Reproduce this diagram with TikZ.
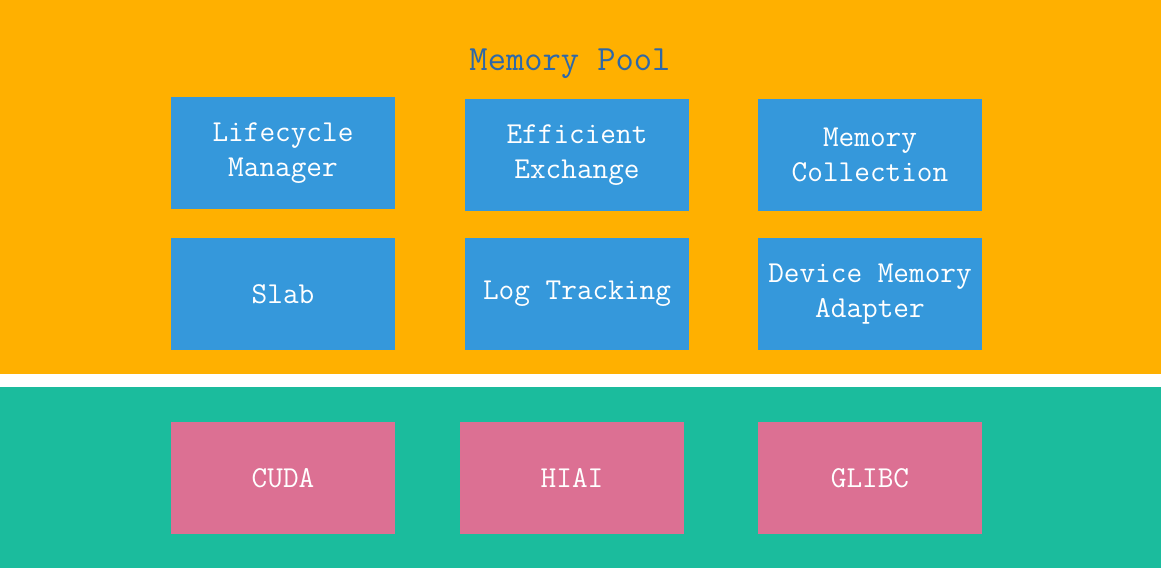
\documentclass[tikz,border=0pt]{standalone}
\usepackage{tikz}
\usetikzlibrary{positioning}
\definecolor{poolorange}{RGB}{255,176,0}
\definecolor{poolblue}{RGB}{53,152,219}
\definecolor{baseteal}{RGB}{27,188,157}
\definecolor{basepink}{RGB}{220,112,147}
\definecolor{titleblue}{RGB}{46,104,168}
\tikzset{box/.style={shape=rectangle, inner sep=0pt, minimum width=4.48cm,
    minimum height=2.24cm, align=center, text=white,
    font=\ttfamily\fontsize{17.3}{19.8}\selectfont}}
\tikzset{poolbox/.style={box, fill=poolblue}}
\tikzset{basebox/.style={box, fill=basepink}}

\begin{document}
\begin{tikzpicture}[x=0.02cm, y=-0.02cm]
    %%%% Bands
    \path[fill=white] (0,0) rectangle (1161,568);
    \path[fill=poolorange] (0,0) rectangle (1161,374);
    \path[fill=baseteal] (0,387) rectangle (1161,568);
    \useasboundingbox (0,0) rectangle (1161,568);

    %%%% Title
    \node(title) at (570,64) [text=titleblue, font=\ttfamily\fontsize{20.2}{22}\selectfont] {Memory Pool};

    %%%% Memory pool modules
    \node[poolbox](lifecycle)  at (283,153) {Lifecycle\\Manager};
    \node[poolbox](exchange)   at (577,155) {Efficient\\Exchange};
    \node[poolbox](collection) at (870,155) {Memory\\Collection};
    \node[poolbox](slab)       at (283,294) {Slab};
    \node[poolbox](logtrack)   at (577,294) {Log Tracking};
    \node[poolbox](adapter)    at (870,294) {Device Memory\\Adapter};

    %%%% Device backends
    \node[basebox](cuda)  at (283,478) {CUDA};
    \node[basebox](hiai)  at (572,478) {HIAI};
    \node[basebox](glibc) at (870,478) {GLIBC};
\end{tikzpicture}
\end{document}
